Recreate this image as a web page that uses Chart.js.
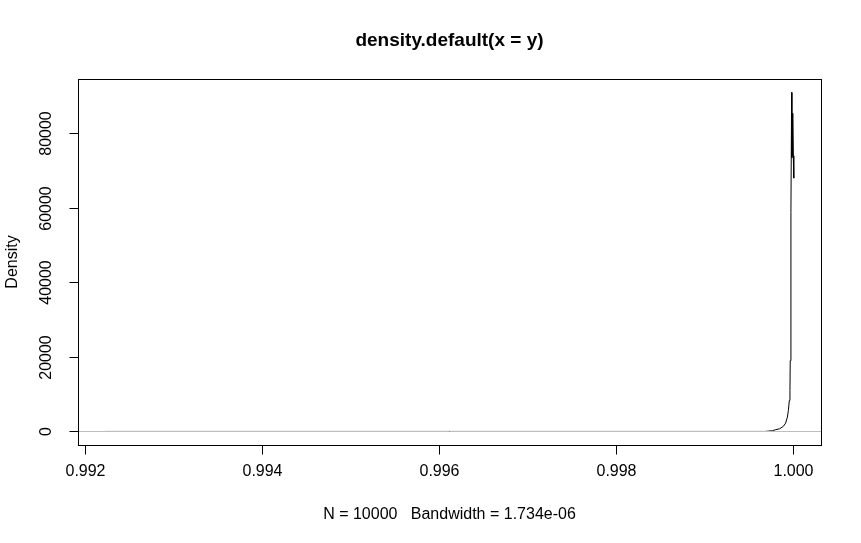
<!DOCTYPE html>
<html>
<head>
<meta charset="utf-8">
<title>density.default(x = y)</title>
<script src="https://cdn.jsdelivr.net/npm/chart.js@4/dist/chart.umd.min.js"></script>
<style>
  html, body { margin: 0; padding: 0; background: #ffffff; }
  #wrap { width: 861px; height: 543px; }
</style>
</head>
<body>
<div id="wrap"><canvas id="densityChart" width="861" height="543"></canvas></div>
<script>
// Density curve (x = value, y = density)
const densityX = [
    0.99222, 0.99968, 0.99971, 0.99977, 0.99980, 0.99985, 0.99989,
    0.999917, 0.999937, 0.999948, 0.999959, 0.999966, 0.999969,
    0.999977, 0.999985, 0.999988, 0.999992, 0.999996, 1.000000,
    1.000004, 1.000008, 1.000011
];
const densityY = [
    0, 0, 60, 200, 450, 720, 1340,
    2230, 3840, 5640, 8320, 11000, 19000,
    58800, 91000, 73500, 85400, 74000, 84000,
    73500, 74000, 68000
];

// Axis ranges and ticks
const xRange = [0.9919162, 1.000317];
const yRange = [-3639, 94616];
const xTicks = [0.992, 0.994, 0.996, 0.998, 1.000];
const xTickLabels = ['0.992', '0.994', '0.996', '0.998', '1.000'];
const yTicks = [0, 20000, 40000, 60000, 80000];
const yTickLabels = ['0', '20000', '40000', '60000', '80000'];

const titleText = 'density.default(x = y)';
const xLabelText = 'N = 10000   Bandwidth = 1.734e-06';
const yLabelText = 'Density';

const FONT = '"Liberation Sans", Arial, sans-serif';

// Draws the R style frame, axes, zero line and texts
const rFramePlugin = {
    id: 'rFrame',
    afterDatasetsDraw(chart) {
        const ctx = chart.ctx;
        const area = chart.chartArea;
        const xs = chart.scales.x;
        const ys = chart.scales.y;

        ctx.save();

        // zero line (drawn over the curve like abline in R)
        const y0 = Math.round(ys.getPixelForValue(0)) + 0.5;
        ctx.strokeStyle = '#bebebe';
        ctx.lineWidth = 1;
        ctx.beginPath();
        ctx.moveTo(area.left, y0);
        ctx.lineTo(area.right, y0);
        ctx.stroke();

        // box
        ctx.strokeStyle = '#000000';
        ctx.lineWidth = 1;
        const l = Math.round(area.left) + 0.5;
        const r = Math.round(area.right) + 0.5;
        const t = Math.round(area.top) + 0.5;
        const b = Math.round(area.bottom) + 0.5;
        ctx.strokeRect(l, t, r - l, b - t);

        // x ticks
        ctx.fillStyle = '#000000';
        ctx.font = '16px ' + FONT;
        ctx.textAlign = 'center';
        ctx.textBaseline = 'middle';
        xTicks.forEach((v, i) => {
            const px = Math.round(xs.getPixelForValue(v)) + 0.5;
            ctx.beginPath();
            ctx.moveTo(px, b);
            ctx.lineTo(px, b + 9);
            ctx.stroke();
            ctx.fillText(xTickLabels[i], px, 472);
        });

        // y ticks (labels rotated like R's las = 0)
        yTicks.forEach((v, i) => {
            const py = Math.round(ys.getPixelForValue(v)) + 0.5;
            ctx.beginPath();
            ctx.moveTo(l, py);
            ctx.lineTo(l - 9, py);
            ctx.stroke();
            ctx.save();
            ctx.translate(47, py);
            ctx.rotate(-Math.PI / 2);
            ctx.fillText(yTickLabels[i], 0, 0);
            ctx.restore();
        });

        // axis titles
        ctx.fillText(xLabelText, (area.left + area.right) / 2, 515);
        ctx.save();
        ctx.translate(13, (area.top + area.bottom) / 2);
        ctx.rotate(-Math.PI / 2);
        ctx.fillText(yLabelText, 0, 0);
        ctx.restore();

        // main title
        ctx.font = 'bold 19px ' + FONT;
        ctx.fillText(titleText, (area.left + area.right) / 2, 41);

        ctx.restore();
    }
};

const points = densityX.map((x, i) => ({ x: x, y: densityY[i] }));

new Chart(document.getElementById('densityChart'), {
    type: 'scatter',
    data: {
        datasets: [{
            data: points,
            showLine: true,
            borderColor: '#000000',
            borderWidth: 1,
            pointRadius: 0,
            fill: false,
            tension: 0
        }]
    },
    options: {
        responsive: false,
        animation: false,
        devicePixelRatio: 1,
        layout: {
            padding: { left: 78, right: 40, top: 79, bottom: 98 }
        },
        plugins: {
            legend: { display: false },
            tooltip: { enabled: false },
            title: { display: false }
        },
        scales: {
            x: {
                type: 'linear',
                display: false,
                min: xRange[0],
                max: xRange[1]
            },
            y: {
                type: 'linear',
                display: false,
                min: yRange[0],
                max: yRange[1]
            }
        }
    },
    plugins: [rFramePlugin]
});
</script>
</body>
</html>
